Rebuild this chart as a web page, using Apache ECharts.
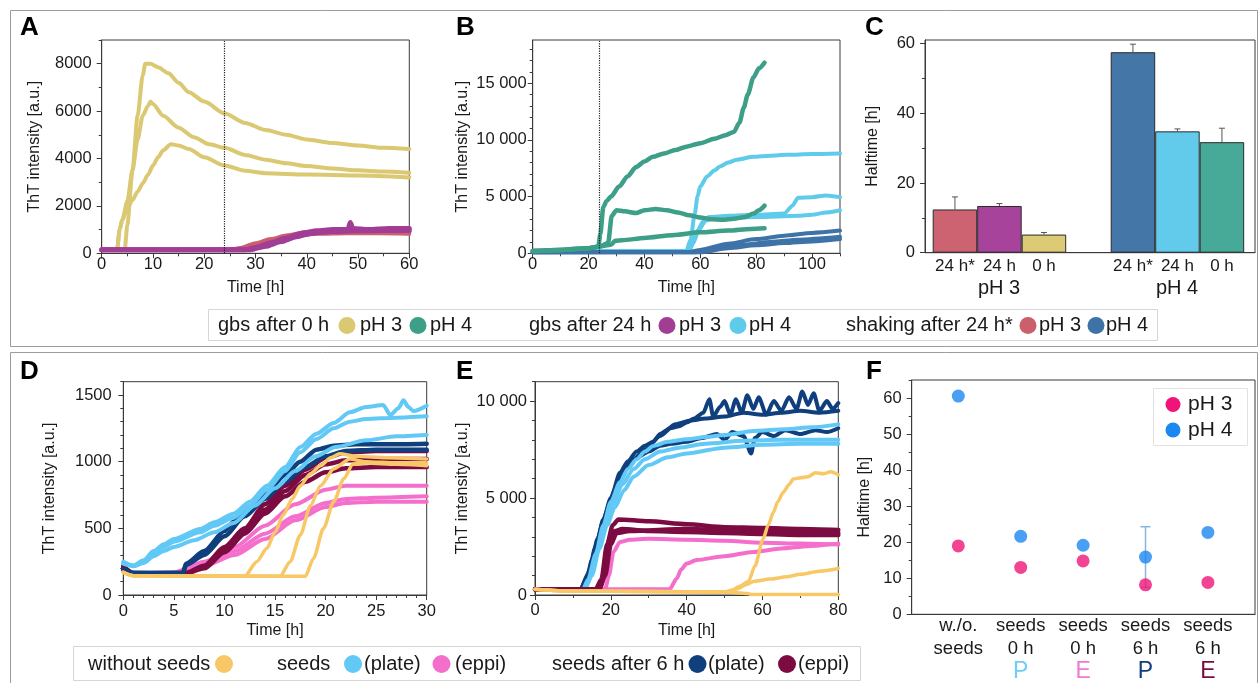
<!DOCTYPE html>
<html><head><meta charset="utf-8">
<script src="https://cdn.jsdelivr.net/npm/echarts@6/dist/echarts.min.js"></script>
<style>html,body{margin:0;padding:0;background:#fff}#c{width:1260px;height:683px}</style>
</head><body><div id="c"></div>
<script>
// ---------------- DATA ----------------
// Panel A (x: time h, y: ThT a.u.)
const A_xTicks = [0,10,20,30,40,50,60];
const A_xMinor = [5,15,25,35,45,55];
const A_yTicks = [0,2000,4000,6000,8000];
const A_yMinor = [1000,3000,5000,7000,9000];
const A_gbs0_pH3_1 = [[0,150],[3,150],[4.5,160],[5,1200],[6,3500],[7,5800],[8,7500],[8.5,8000],[9.5,8000],[11,7850],[13,7600],[15,7200],[17,6800],[20,6400],[24,5900],[28,5500],[32,5200],[36,5000],[40,4800],[45,4650],[50,4550],[55,4450],[60,4400]];
const A_gbs0_pH3_2 = [[0,150],[3,150],[3.5,1000],[4,1400],[5,2200],[6,3500],[7,4800],[8,5800],[9,6200],[9.5,6400],[10,6300],[12,5800],[15,5300],[18,4900],[21,4600],[24,4450],[28,4150],[32,3950],[36,3800],[40,3680],[45,3580],[50,3500],[55,3450],[60,3400]];
const A_gbs0_pH3_3 = [[0,150],[3,150],[3.5,1000],[4,1400],[5,1900],[6,2250],[7,2600],[8,2950],[9,3300],[10,3700],[11,4050],[12,4350],[13.5,4600],[15,4550],[17,4400],[20,4050],[24,3700],[28,3480],[32,3380],[40,3320],[50,3280],[60,3200]];
const A_shake_pH3_1 = [[0,150],[25,150],[27,220],[30,420],[33,600],[36,750],[40,900],[45,950],[50,920],[55,900],[60,900]];
const A_shake_pH3_2 = [[0,150],[27,150],[30,300],[34,550],[38,750],[42,820],[48,850],[54,850],[60,830]];
const A_gbs24_pH3_1 = [[0,150],[28,150],[30,250],[33,450],[36,650],[39,850],[42,950],[45,1000],[48,1000],[48.5,1300],[49,1050],[52,1000],[56,1050],[60,1050]];
const A_gbs24_pH3_2 = [[0,150],[29,150],[32,300],[35,500],[38,700],[41,850],[45,920],[50,950],[55,960],[60,960]];

// Panel B
const B_xTicks = [0,20,40,60,80,100];
const B_xMinor = [10,30,50,70,90,110];
const B_yTicks = [0,5000,10000,15000];
const B_yMinor = [1000,2000,3000,4000,6000,7000,8000,9000,11000,12000,13000,14000,16000,17000,18000];
const B_gbs0_pH4_1 = [[0,200],[10,300],[20,450],[23.5,600],[24.2,1700],[25.3,4100],[26.5,4600],[28,5000],[31,5900],[34,6800],[37,7600],[40,8100],[43,8500],[47,8800],[51,9100],[55,9400],[60,9700],[65,10100],[69,10400],[72,10700],[74,11500],[75.5,12800],[77,14000],[79,15500],[81,16300],[83,16800]];
const B_gbs0_pH4_2 = [[0,200],[10,300],[20,450],[24,600],[27,900],[28.3,3300],[30,3800],[33,3700],[37,3550],[40,3800],[44,3900],[48,3800],[52,3600],[56,3350],[60,3150],[64,3000],[68,2950],[72,3050],[76,3200],[79,3500],[81,3800],[83,4200]];
const B_gbs0_pH4_3 = [[0,200],[10,300],[20,450],[24,600],[28,750],[29.5,1100],[32,1150],[40,1350],[50,1600],[60,1850],[70,2000],[78,2150],[83,2200]];
const B_gbs24_pH4_1 = [[0,200],[55,200],[56.5,1200],[58,3500],[59,5000],[60,5900],[62.5,6800],[65,7300],[67,7650],[70,8000],[73,8250],[79,8500],[85,8600],[91,8680],[100,8750],[110,8800]];
const B_gbs24_pH4_2 = [[0,200],[55,200],[57,800],[59,2000],[61,2800],[63,3200],[70,3300],[80,3400],[90,3500],[93,4200],[95,4900],[100,4950],[105,5100],[110,4950]];
const B_gbs24_pH4_3 = [[0,200],[56,200],[57.5,900],[59.5,2100],[62,2900],[65,3100],[80,3200],[95,3300],[100,3400],[105,3600],[110,3800]];
const B_shake_pH4_1 = [[0,100],[56,110],[60,300],[70,850],[80,1250],[90,1550],[100,1800],[110,2000]];
const B_shake_pH4_2 = [[0,100],[58,100],[65,400],[75,750],[85,1000],[95,1200],[110,1450]];
const B_shake_pH4_3 = [[0,100],[60,100],[70,450],[80,700],[90,900],[100,1050],[110,1250]];

// Panel C (halftime bars)
const C_cats = ['24 h*','24 h','0 h','','24 h*','24 h','0 h'];
const C_vals = [12.4,13.4,5.2,null,57.5,34.8,31.7];
const C_errTop = [16.0,14.1,5.8,null,59.8,35.5,35.7];
const C_groups = ['pH 3','pH 4'];
const C_yTicks = [0,20,40,60];
const C_yMinor = [10,30,50];

// Panel D
const D_xTicks = [0,5,10,15,20,25,30];
const D_xMinor = [1,2,3,4,6,7,8,9,11,12,13,14,16,17,18,19,21,22,23,24,26,27,28,29];
const D_yTicks = [0,500,1000,1500];
const D_yMinor = [100,200,300,400,600,700,800,900,1100,1200,1300,1400,1600];
const D_noSeed_1 = [[0,170],[1,145],[12,140],[13.2,250],[14.2,350],[15,470],[15.8,600],[16.7,720],[17.5,820],[18.5,910],[19.5,970],[20.5,1030],[21.4,1060],[23,1040],[26,1030],[30,1020]];
const D_noSeed_2 = [[0,170],[1,145],[15.5,140],[16.5,250],[17.5,450],[18.5,670],[19.5,820],[20.8,946],[22.4,1020],[24,1000],[27,990],[30,990]];
const D_noSeed_3 = [[0,170],[1,145],[18,140],[18.8,274],[19.8,500],[20.8,700],[21.8,872],[22.7,980],[24,990],[27,980],[30,970]];
const D_seedPlate_1 = [[0,250],[1,222],[2,260],[3,330],[4,380],[5,420],[7.6,495],[9,545],[10.9,610],[12.5,700],[14.2,820],[16,960],[17.5,1110],[19.1,1210],[20.8,1290],[22.4,1370],[24,1410],[25.7,1425],[26.4,1350],[27.2,1400],[27.7,1460],[28.2,1410],[28.7,1380],[30,1420]];
const D_seedPlate_2 = [[0,240],[1,220],[2,250],[3,310],[4,360],[5,400],[7.6,470],[9,520],[10.9,580],[12.5,670],[14.2,790],[16,930],[17.5,1070],[19.1,1170],[20.8,1250],[22.4,1300],[24,1320],[27,1330],[30,1340]];
const D_seedPlate_3 = [[0,235],[1,215],[2,240],[3,290],[4,330],[5,360],[7,410],[9,470],[10.9,540],[13,670],[15,800],[17,930],[19,1040],[21,1110],[24,1160],[27,1190],[30,1200]];
const D_seedEppi_1 = [[0,190],[1,160],[5,170],[8,250],[11,360],[14,520],[17,680],[20,790],[22,820],[25,820],[30,820]];
const D_seedEppi_2 = [[0,190],[1,160],[5,165],[8,230],[11,330],[14,460],[17,590],[20,690],[22,720],[25,730],[30,740]];
const D_seedEppi_3 = [[0,190],[1,160],[5,165],[8,220],[11,300],[14,420],[17,560],[20,660],[22,690],[25,700],[30,700]];
const D_seed6Plate_1 = [[0,190],[1,165],[5.9,165],[6.2,235],[8,330],[10,480],[10.9,550],[12.5,660],[14.2,780],[16,900],[17.5,1000],[19.1,1090],[20.8,1120],[23,1130],[26,1130],[30,1135]];
const D_seed6Plate_2 = [[0,190],[1,165],[5.9,165],[6.2,225],[8,300],[10,440],[12,590],[14,720],[16,850],[18,960],[20,1040],[22,1080],[25,1090],[30,1090]];
const D_seed6Eppi_1 = [[0,215],[1,165],[6,160],[8,220],[10,360],[12,500],[14,680],[16,820],[18,940],[20,1030],[22,1070],[25,1080],[30,1080]];
const D_seed6Eppi_2 = [[0,205],[1,160],[6,158],[8,200],[10,320],[12,460],[14,610],[16,740],[18,850],[20,920],[22,950],[25,960],[30,960]];
const D_seed6Eppi_3 = [[0,210],[1,162],[6,160],[8,210],[10,340],[12,480],[14,640],[16,780],[18,900],[20,980],[22,1010],[25,1020],[30,1020]];

// Panel E
const E_xTicks = [0,20,40,60,80];
const E_xMinor = [10,30,50,70];
const E_yTicks = [0,5000,10000];
const E_yMinor = [1000,2000,3000,4000,6000,7000,8000,9000,11000];
const E_noSeed_1 = [[0,300],[10,200],[50,150],[52,250],[54,450],[56.3,700],[58,1500],[60.2,2900],[61.5,3600],[62.9,4270],[64,4800],[65.5,5300],[67,5700],[68.1,5980],[70,6050],[72,6100],[74,6300],[76,6250],[78,6350],[80,6200]];
const E_noSeed_2 = [[0,300],[10,200],[50,150],[53,300],[56,550],[57.6,700],[62,820],[66.4,940],[70,1070],[75,1230],[80,1370]];
const E_noSeed_3 = [[0,300],[10,200],[50,150],[56,80],[57,30],[80,30]];
const E_seedPlate_1 = [[0,300],[12.7,300],[14,800],[16,2100],[18,3590],[20,4800],[22.4,5810],[24.5,6500],[26.8,7000],[29,7400],[31.2,7690],[35,7900],[40,8030],[45,8150],[50,8250],[57.6,8460],[66,8550],[73,8650],[80,8800]];
const E_seedPlate_2 = [[0,300],[13,300],[14.5,900],[16.5,2300],[18.5,3600],[20.5,4700],[23,5700],[26,6500],[29,7000],[33,7400],[38,7600],[45,7800],[55,7950],[65,8000],[80,8000]];
const E_seedPlate_3 = [[0,300],[13.2,300],[15,1000],[17,2400],[19,3600],[21,4500],[23.5,5400],[26,6100],[30,6700],[35,7100],[40,7300],[50,7600],[60,7750],[70,7800],[80,7800]];
const E_seedEppi_1 = [[0,300],[18.5,300],[19.5,1000],[20.7,2220],[22.4,2735],[25,2850],[30,2900],[40,2850],[50,2800],[60,2700],[70,2650],[80,2600]];
const E_seedEppi_2 = [[0,300],[35.5,300],[37.4,855],[38.5,1300],[40,1620],[42.6,1800],[50,2000],[57.6,2220],[65,2400],[72,2520],[80,2650]];
const E_seed6Plate_1 = [[0,300],[12,300],[13.6,850],[15,1800],[16.5,2900],[18,3900],[20,5000],[22.4,6300],[24.5,6900],[26.8,7400],[29,7700],[31.2,7900],[33,8300],[35.6,8600],[38,8700],[40,8900],[42,9100],[44.4,9400],[46,10100],[47,9200],[48.8,9700],[50,10000],[51.5,9300],[53,10100],[54.5,9400],[56,10300],[57.6,9600],[59,10200],[61,9300],[63,10000],[65,9500],[67,10200],[69,9600],[70.5,10500],[72,9800],[73.5,10400],[75,9500],[77,10000],[78.5,9600],[80,9900]];
const E_seed6Plate_2 = [[0,300],[12,300],[14,1100],[16,2500],[18,3800],[20,4900],[22,5900],[24,6500],[27,7100],[30,7400],[33,7700],[36,7800],[40,7900],[44,8100],[48,8300],[50,8000],[52,8400],[55,8200],[57,7300],[58,8100],[60,8400],[63,8200],[66,8500],[70,8300],[74,8500],[77,8400],[80,8600]];
const E_seed6Plate_3 = [[0,300],[12.5,300],[14.5,1300],[17,3000],[19,4300],[21,5400],[23.5,6400],[26,7000],[29,7500],[33,8200],[37,8800],[41,9000],[45,9100],[50,9200],[55,9400],[60,9300],[65,9400],[70,9500],[75,9400],[80,9500]];
const E_seed6Eppi_1 = [[0,300],[16,300],[17.5,800],[19,2600],[20.5,3600],[22,3900],[30,3800],[40,3650],[50,3500],[60,3450],[70,3400],[80,3350]];
const E_seed6Eppi_2 = [[0,300],[16.5,300],[18,900],[19.5,2700],[21,3300],[23,3400],[30,3300],[40,3250],[50,3200],[60,3150],[70,3100],[80,3100]];
const E_seed6Eppi_3 = [[0,300],[17,300],[18.5,1000],[20,2600],[21.5,3200],[25,3300],[40,3400],[60,3300],[80,3200]];

// Panel F (halftime points)
const F_labels = ['w./o.\nseeds','seeds\n0 h','seeds\n0 h','seeds\n6 h','seeds\n6 h'];
const F_marks = ['','P','E','P','E'];
const F_pH3 = [18.5,12.5,14.3,7.6,8.3];
const F_pH4 = [60.5,21.2,18.7,15.4,22.3];
const F_pH4err = [null,null,null,8.5,null];
const F_yTicks = [0,10,20,30,40,50,60];
const F_yMinor = [5,15,25,35,45,55,65];
const F_legend = ['pH 3','pH 4'];

// Legends
const topLegendGroups = ['gbs after 0 h','gbs after 24 h','shaking after 24 h*'];
const topLegendItems = ['pH 3','pH 4'];
const botLegendGroups = ['without seeds','seeds','seeds after 6 h'];
const botLegendItems = ['(plate)','(eppi)'];

// ---------------- STYLE ----------------
const FONT = "'Liberation Sans', Arial, Helvetica, sans-serif";
const AX = '#3a3a3a', TXT = '#1a1a1a';
const YEL='#dbc872', TEAL='#3d9f88', PURP='#a23d96', LBLUE='#5fcbeb', RED='#cc5f6c', DBLUE='#3e73a8';
const ORG='#f8c766', SLB='#62c8f6', PINK='#f46fcb', NAVY='#0f3f7d', MAR='#7b0b40';
const C_colors = [ '#cd6270','#a8439c','#dccb74',null,'#4476a8','#62cbeb','#47a997'];
const F_pink = '#f01478', F_blue = '#1b87f0';
const F_markColors = [null,'#6fcdf5','#f07ad0','#103e7c','#7a0d3e'];

const grids = [
  {left:101.7, top:40, width:307.6, height:213.3, show:true, borderColor:AX, borderWidth:1},   //0 A
  {left:532.7, top:40, width:307.3, height:213.3, show:true, borderColor:AX, borderWidth:1},   //1 B
  {left:925, top:40, width:330, height:212.7, show:true, borderColor:AX, borderWidth:1},       //2 C frame
  {left:932.7, top:40, width:311.5, height:212.7},                                             //3 C bars
  {left:123.3, top:381.7, width:303.4, height:213.3, show:true, borderColor:AX, borderWidth:1},//4 D
  {left:535, top:381.7, width:303.3, height:213.3, show:true, borderColor:AX, borderWidth:1},  //5 E
  {left:911.7, top:380, width:343.3, height:234.3, show:true, borderColor:AX, borderWidth:1},  //6 F frame
  {left:927.1, top:380, width:312, height:234.3}                                               //7 F cat
];

const xAxes = [], yAxes = [];
const plainNum = v => String(v);
function major(list, gi, pos, min, max, ticks, margin, name, nameGap, fmt) {
  list.push({type:'value', gridIndex:gi, position:pos, min, max,
    axisLine:{show:true, onZero:false, lineStyle:{color:AX, width:1}},
    axisTick:{show:true, length:5, customValues:ticks, lineStyle:{color:AX, width:1}},
    axisLabel:{show:true, customValues:ticks, fontSize:16.5, color:TXT, fontFamily:FONT, margin, formatter:fmt||plainNum},
    splitLine:{show:false}, minorTick:{show:false},
    name, nameLocation:'middle', nameGap, nameTextStyle:{fontSize:16, color:TXT, fontFamily:FONT}});
  return list.length-1;
}
function minor(list, gi, pos, min, max, ticks) {
  list.push({type:'value', gridIndex:gi, position:pos, min, max,
    axisLine:{show:false, onZero:false}, axisLabel:{show:false}, splitLine:{show:false},
    axisTick:{show:true, length:3, customValues:ticks, lineStyle:{color:AX, width:1}}});
  return list.length-1;
}
function plain(list, gi, pos, min, max, showLine) {
  list.push({type:'value', gridIndex:gi, position:pos, min, max, show: showLine,
    axisLine:{show:true, onZero:false, lineStyle:{color:AX, width:1}}, axisTick:{show:false},
    axisLabel:{show:false}, splitLine:{show:false}});
  return list.length-1;
}
const spaced = v => String(v).replace(/\B(?=(\d{3})+(?!\d))/g, ' ');

// A
const xA = major(xAxes,0,'bottom',0,60,A_xTicks,3,'Time [h]',26.7); minor(xAxes,0,'bottom',0,60,A_xMinor);
const yA = major(yAxes,0,'left',0,9000,A_yTicks,10,'ThT intensity [a.u.]',58.7); minor(yAxes,0,'left',0,9000,A_yMinor);
// B
const xB = major(xAxes,1,'bottom',0,110,B_xTicks,3,'Time [h]',26.7); minor(xAxes,1,'bottom',0,110,B_xMinor);
const yB = major(yAxes,1,'left',0,18800,B_yTicks,6,'ThT intensity [a.u.]',61.7,spaced); minor(yAxes,1,'left',0,18800,B_yMinor);
// C frame
plain(xAxes,2,'bottom',0,1,true);
major(yAxes,2,'left',0,61,C_yTicks,10,'Halftime [h]',44); minor(yAxes,2,'left',0,61,C_yMinor);
// C bars
xAxes.push({type:'category', gridIndex:3, position:'bottom', data:C_cats,
  axisLine:{show:false}, axisTick:{show:false}, splitLine:{show:false},
  axisLabel:{interval:0, fontSize:17, color:TXT, fontFamily:FONT, margin:5}});
const xC = xAxes.length-1;
const yC = plain(yAxes,3,'left',0,61,false);
// D
const xD = major(xAxes,4,'bottom',0,30,D_xTicks,8,'Time [h]',28); minor(xAxes,4,'bottom',0,30,D_xMinor);
const yD = major(yAxes,4,'left',0,1600,D_yTicks,11.6,'ThT intensity [a.u.]',65.3); minor(yAxes,4,'left',0,1600,D_yMinor);
// E
const xE = major(xAxes,5,'bottom',0,80,E_xTicks,7,'Time [h]',28); minor(xAxes,5,'bottom',0,80,E_xMinor);
const yE = major(yAxes,5,'left',0,11000,E_yTicks,8,'ThT intensity [a.u.]',64,spaced); minor(yAxes,5,'left',0,11000,E_yMinor);
// F frame
plain(xAxes,6,'bottom',0,1,true);
major(yAxes,6,'left',0,65,F_yTicks,10,'Halftime [h]',38.7); minor(yAxes,6,'left',0,65,F_yMinor);
// F categories
const fRich = {};
F_marks.forEach((m,i)=>{ if(m) fRich['m'+i] = {color:F_markColors[i], fontSize:23, lineHeight:23, fontFamily:FONT}; });
xAxes.push({type:'category', gridIndex:7, position:'bottom', data:F_labels,
  axisLine:{show:false}, axisTick:{show:false}, splitLine:{show:false},
  axisLabel:{interval:0, fontSize:18.5, lineHeight:23, color:TXT, fontFamily:FONT, margin:2,
    formatter:(v,i)=> F_marks[i] ? v + '\n{m'+i+'|'+F_marks[i]+'}' : v, rich:fRich}});
const xF = xAxes.length-1;
const yF = plain(yAxes,7,'left',0,65,false);

// ---------------- SERIES ----------------
const series = [];
function line(xi, yi, data, color, width, extra) {
  series.push(Object.assign({type:'line', xAxisIndex:xi, yAxisIndex:yi, data, showSymbol:false, symbol:'none',
    smooth:0.25, smoothMonotone:'x', silent:true,
    lineStyle:{color, width:width||4, cap:'round', join:'round'}, itemStyle:{color}}, extra||{}));
}
const vline = {markLine:{silent:true, symbol:['none','none'], label:{show:false}, animation:false,
  lineStyle:{type:'dotted', color:'#222', width:1.2}, data:[{xAxis:24}]}};

// A
line(xA,yA,A_gbs0_pH3_1,YEL,4,vline);
line(xA,yA,A_gbs0_pH3_2,YEL);
line(xA,yA,A_gbs0_pH3_3,YEL);
line(xA,yA,A_shake_pH3_1,RED);
line(xA,yA,A_shake_pH3_2,RED);
line(xA,yA,A_gbs24_pH3_1,PURP,5);
line(xA,yA,A_gbs24_pH3_2,PURP,5);
// B
line(xB,yB,B_gbs24_pH4_1,LBLUE,4,vline);
line(xB,yB,B_gbs24_pH4_2,LBLUE);
line(xB,yB,B_gbs24_pH4_3,LBLUE);
line(xB,yB,B_shake_pH4_1,DBLUE);
line(xB,yB,B_shake_pH4_2,DBLUE);
line(xB,yB,B_shake_pH4_3,DBLUE);
line(xB,yB,B_gbs0_pH4_1,TEAL,4.5);
line(xB,yB,B_gbs0_pH4_2,TEAL,4.5);
line(xB,yB,B_gbs0_pH4_3,TEAL,4.5);
// C
series.push({type:'bar', xAxisIndex:xC, yAxisIndex:yC, barWidth:'100%', silent:true,
  data:C_vals.map((v,i)=> v==null ? '-' : {value:v, itemStyle:{color:C_colors[i]}}),
  itemStyle:{borderColor:'#2a2a2a', borderWidth:1}});
series.push({type:'custom', xAxisIndex:xC, yAxisIndex:yC, silent:true, z:5,
  data:C_vals.map((v,i)=> v==null ? null : [i, v, C_errTop[i]]).filter(Boolean),
  renderItem:(p, api)=>{
    const a = api.coord([api.value(0), api.value(1)]), b = api.coord([api.value(0), api.value(2)]);
    const st = {stroke:'#555', lineWidth:1};
    return {type:'group', children:[
      {type:'line', shape:{x1:a[0],y1:a[1],x2:b[0],y2:b[1]}, style:st},
      {type:'line', shape:{x1:b[0]-3,y1:b[1],x2:b[0]+3,y2:b[1]}, style:st}]};
  }});
// D
[D_seedEppi_1,D_seedEppi_2,D_seedEppi_3].forEach(d=>line(xD,yD,d,PINK));
[D_seed6Eppi_1,D_seed6Eppi_2,D_seed6Eppi_3].forEach(d=>line(xD,yD,d,MAR,4.5));
[D_seed6Plate_1,D_seed6Plate_2].forEach(d=>line(xD,yD,d,NAVY,4.5));
[D_seedPlate_1,D_seedPlate_2,D_seedPlate_3].forEach(d=>line(xD,yD,d,SLB));
[D_noSeed_1,D_noSeed_2,D_noSeed_3].forEach(d=>line(xD,yD,d,ORG,3.5));
// E
[E_seed6Plate_1,E_seed6Plate_2,E_seed6Plate_3].forEach(d=>line(xE,yE,d,NAVY,4));
[E_seedPlate_1,E_seedPlate_2,E_seedPlate_3].forEach(d=>line(xE,yE,d,SLB,4));
[E_seedEppi_1,E_seedEppi_2].forEach(d=>line(xE,yE,d,PINK,4));
[E_seed6Eppi_1,E_seed6Eppi_2,E_seed6Eppi_3].forEach(d=>line(xE,yE,d,MAR,4.5));
[E_noSeed_1,E_noSeed_2,E_noSeed_3].forEach(d=>line(xE,yE,d,ORG,3.5));
// F
series.push({type:'custom', xAxisIndex:xF, yAxisIndex:yF, silent:true, z:1,
  data:F_pH4err.map((e,i)=> e==null ? null : [i, F_pH4[i]-e, F_pH4[i]+e]).filter(Boolean),
  renderItem:(p, api)=>{
    const a = api.coord([api.value(0), api.value(1)]), b = api.coord([api.value(0), api.value(2)]);
    const st = {stroke:'#86b6e0', lineWidth:1.5};
    return {type:'group', children:[
      {type:'line', shape:{x1:a[0],y1:a[1],x2:b[0],y2:b[1]}, style:st},
      {type:'line', shape:{x1:a[0]-5,y1:a[1],x2:a[0]+5,y2:a[1]}, style:st},
      {type:'line', shape:{x1:b[0]-5,y1:b[1],x2:b[0]+5,y2:b[1]}, style:st}]};
  }});
series.push({type:'scatter', xAxisIndex:xF, yAxisIndex:yF, data:F_pH4, symbolSize:13, silent:true, z:3, itemStyle:{color:F_blue}});
series.push({type:'scatter', xAxisIndex:xF, yAxisIndex:yF, data:F_pH3, symbolSize:13, silent:true, z:4, itemStyle:{color:F_pink}});

// ---------------- GRAPHICS ----------------
const g = [];
g.push({type:'rect', silent:true, shape:{x:10.5,y:10.5,width:1247,height:336}, style:{fill:'none', stroke:'#9c9c9c', lineWidth:1}});
g.push({type:'rect', silent:true, shape:{x:10.5,y:352.5,width:1247,height:345}, style:{fill:'none', stroke:'#9c9c9c', lineWidth:1}});
const letters = [['A',20,28],['B',456,28],['C',865,28],['D',20,371.5],['E',456,371.5],['F',866,371.5]];
letters.forEach(([t,x,y])=>g.push({type:'text', silent:true, x, y, style:{text:t, fontSize:26, fontWeight:'bold', fontFamily:FONT, fill:'#000', align:'left', verticalAlign:'middle'}}));
function txt(t, x, y, size, color, align) {
  g.push({type:'text', silent:true, x, y, style:{text:t, fontSize:size, fontFamily:FONT, fill:color||TXT, align:align||'left', verticalAlign:'middle'}});
}
function dot(cx, cy, r, color) { g.push({type:'circle', silent:true, shape:{cx, cy, r}, style:{fill:color}}); }
// C group labels
txt(C_groups[0], 999, 288.5, 20, TXT, 'center');
txt(C_groups[1], 1177, 288.5, 20, TXT, 'center');
// top legend
g.push({type:'rect', silent:true, shape:{x:208.5,y:309.5,width:949,height:31}, style:{fill:'#fff', stroke:'#d6d6d6', lineWidth:1}, z:-1});
const TLY = 325.5;
const topCols = [[YEL,TEAL],[PURP,LBLUE],[RED,DBLUE]];
const topPos = [[218,347,360,418,430],[529,667,679,738,749],[846,1028,1039,1096,1106]];
topLegendGroups.forEach((name,k)=>{
  const p = topPos[k];
  txt(name, p[0], TLY, 20);
  dot(p[1], TLY, 8.5, topCols[k][0]); txt(topLegendItems[0], p[2], TLY, 20);
  dot(p[3], TLY, 8.5, topCols[k][1]); txt(topLegendItems[1], p[4], TLY, 20);
});
// bottom legend
g.push({type:'rect', silent:true, shape:{x:73.5,y:646.5,width:787,height:34}, style:{fill:'#fff', stroke:'#d6d6d6', lineWidth:1}, z:-1});
const BLY = 664;
txt(botLegendGroups[0], 88, BLY, 20); dot(224, BLY, 9, ORG);
txt(botLegendGroups[1], 277, BLY, 20); dot(353, BLY, 9, SLB); txt(botLegendItems[0], 364, BLY, 20); dot(441.5, BLY, 9, PINK); txt(botLegendItems[1], 455, BLY, 20);
txt(botLegendGroups[2], 552, BLY, 20); dot(697.5, BLY, 9, NAVY); txt(botLegendItems[0], 708, BLY, 20); dot(787, BLY, 9, MAR); txt(botLegendItems[1], 798, BLY, 20);
// F legend
g.push({type:'rect', silent:true, shape:{x:1153.5,y:388.5,width:94,height:57}, style:{fill:'#fff', stroke:'#e2e2e2', lineWidth:1}, z:10});
dot(1173, 404.5, 7.5, F_pink); txt(F_legend[0], 1188, 404.5, 21);
dot(1173, 430, 7.5, F_blue); txt(F_legend[1], 1188, 430, 21);
g.forEach(e=>{ if(e.z==null) e.z = 100; });

const chart = echarts.init(document.getElementById('c'), null, {renderer:'canvas'});
chart.setOption({
  animation:false,
  backgroundColor:'#fff',
  textStyle:{fontFamily:FONT},
  grid:grids, xAxis:xAxes, yAxis:yAxes, series, graphic:g
});
</script></body></html>
